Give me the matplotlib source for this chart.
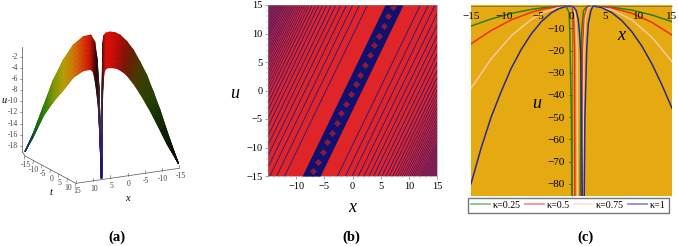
"""Three-panel figure: 3D surface (a), density plot (b), 2D profiles for several kappa (c)."""
import numpy as np
import matplotlib
matplotlib.use("Agg")
import matplotlib.pyplot as plt
from matplotlib.colors import LinearSegmentedColormap
from matplotlib.lines import Line2D
from matplotlib.ticker import MultipleLocator

W, H = 678, 246
SERIF = "Liberation Serif"
plt.rcParams.update({"font.family": SERIF, "mathtext.fontset": "stix"})

# panel (a): surface edges, in 3x reference pixels
left_top_x = [75, 100, 130, 160, 190, 220, 250, 272, 284, 291, 297, 301, 304]
left_top_y = [455, 400, 320, 240, 180, 135, 110, 105, 125, 175, 260, 400, 535]
left_bot_x = [75, 100, 130, 160, 190, 220, 250, 272, 280, 287, 295, 300, 304]
left_bot_y = [455, 410, 348, 305, 270, 232, 212, 208, 216, 250, 320, 420, 535]
left_colors = ["#1a2a90", "#0f6a3a", "#2f8a0a", "#7f9a05", "#b8a205", "#d07a08", "#d93a0a",
               "#c81208", "#6a0a08", "#200806", "#4a2a30", "#3a2a90", "#0a0a9a"]
right_top_x = [305, 306, 308, 312, 318, 330, 345, 360, 380, 400, 420, 440, 460, 480, 510, 535]
right_top_y = [535, 370, 130, 106, 99, 96, 98, 105, 124, 150, 186, 225, 276, 330, 420, 490]
right_bot_x = [305, 306, 308, 312, 318, 325, 335, 350, 365, 380, 400, 420, 440, 460, 500, 535]
right_bot_y = [535, 400, 270, 215, 206, 203, 203, 205, 213, 225, 250, 280, 314, 350, 430, 490]
right_colors = ["#0a0a9a", "#4a3a80", "#3a1a10", "#a01008", "#d80f08", "#d80f08", "#c80e08", "#b00e08",
                "#8a1406", "#6a2206", "#4a3a04", "#3a4004", "#2a4204", "#1a3404", "#0a1a04", "#050505"]
u3d_ticks = [-2, -4, -6, -8, -10, -12, -14, -16, -18]
t3d_ticks = [-15, -10, -5, 0, 5, 10, 15]
x3d_ticks = [15, 10, 5, 0, -5, -10, -15]

# panel (b): stripe offsets from the central band, in x units
stripe_inner = [4.7, 6.1, 7.3, 8.4, 9.4, 10.3, 11.1, 11.9, 12.6, 13.3, 13.9, 14.5]
stripe_outer = [15.0, 15.4, 15.8, 16.2, 16.55, 16.9, 17.25, 17.6, 17.9, 18.2, 18.5, 18.8,
                19.1, 19.4, 19.65, 19.9, 20.15, 20.4, 20.65, 20.9, 21.15, 21.4, 21.65,
                21.9, 22.15, 22.4]
band_slope = 0.49
band_half = 1.6
blob_u = [-14.2, -12.5, -10.8, -9.1, -7.4, -5.7, -4.0, -2.3, -0.6, 1.1, 2.8, 4.5, 6.2, 7.9,
          9.6, 11.3, 13.0, 14.7]

# panel (c): each curve is left wing + inner drop, a break, then inner rise + right wing
green_x = [-15, -12, -9, -6, -4, -2, -0.8, -0.35, -0.25, -0.2, 0.0, 0.05,
           np.nan, 1.3, 1.4, 1.55, 1.8, 2.3, 2.8, 6, 9, 12, 15]
green_u = [-9, -5.8, -3.3, -1.5, -0.65, -0.15, 0, -3, -12, -20, -50, -86,
           np.nan, -86, -30, -10, -2, -0.2, 0, -0.5, -1.8, -4, -7]
red_x = [-15, -12, -9, -6, -4, -2, -0.5, 0.1, 0.3, 0.45, 0.5,
         np.nan, 1.5, 1.65, 1.9, 2.3, 2.9, 6, 9, 12, 15]
red_u = [-17, -11, -6.2, -2.8, -1.2, -0.3, 0, -0.5, -5, -20, -86,
         np.nan, -86, -20, -5, -1, 0, -0.8, -3.2, -7.3, -13]
pink_x = [-15, -12, -9, -6, -4, -2, -0.3, 0.4, 0.65, 0.85, 0.9,
          np.nan, 1.7, 1.85, 2.1, 2.5, 3, 6, 9, 12, 15]
pink_u = [-37, -23.8, -13.4, -6, -2.6, -0.66, 0, -1, -6, -20, -86,
          np.nan, -86, -20, -5, -1, 0, -1.6, -6.2, -14, -25]
blue_x = [-15, -13.5, -12, -10.5, -9, -7.5, -6, -4.5, -3, -2, -1, -0.3, 0.3, 0.7, 1.0, 1.2, 1.35, 1.5, 1.6,
          np.nan, 1.9, 2.0, 2.27, 2.5, 2.9, 3.2, 4.5, 6, 7.5, 9, 10.5, 12, 13.5, 15]
blue_u = [-80, -64, -50, -38.5, -28, -19.5, -12.5, -7, -3, -1.3, -0.3, 0, -0.4, -2, -6, -12, -20, -45, -86,
          np.nan, -86, -50, -20, -8, -2, 0, -0.7, -2.9, -6.5, -11.5, -18, -26, -35.5, -46]
kappa_labels = ["\u03ba=0.25", "\u03ba=0.5", "\u03ba=0.75", "\u03ba=1"]
line_colors = ["#2f7d0a", "#f0300f", "#f8c8a0", "#2a2a90"]
legend_colors = ["#8fbf8f", "#ff8a8a", "#ffe4ec", "#8a8af0"]
c_xticks = [-15, -10, -5, 0, 5, 10, 15]
c_yticks = [-10, -20, -30, -40, -50, -60, -70, -80]


def add_axes_px(left, top, right, bottom):
    return fig.add_axes([left / W, 1 - bottom / H, (right - left) / W, (bottom - top) / H])


def minus(v):
    return str(v).replace("-", "\u2212")


def draw_wing(ax, top_x, top_y, bot_x, bot_y, colors):
    cmap = LinearSegmentedColormap.from_list("wing", colors)
    f = np.linspace(0, 1, 8)[:, None]
    tx, ty, bx, by = map(np.asarray, (top_x, top_y, bot_x, bot_y))
    X = tx + f * (bx - tx)
    Y = ty + f * (by - ty)
    C = np.tile(np.arange(len(colors)), (len(f), 1))
    ax.pcolormesh(X, Y, C, cmap=cmap, shading="gouraud", zorder=2)
    ax.plot(X.T, Y.T, color="#300a00", lw=0.2, alpha=0.15, zorder=3)


fig = plt.figure(figsize=(W / 100, H / 100), dpi=100, facecolor="white")

# (a) ---------------------------------------------------------------------
ax = fig.add_axes([0, 0, 200 / W, 1])
ax.set_xlim(0, 600); ax.set_ylim(738, 0); ax.axis("off")
draw_wing(ax, left_top_x, left_top_y, left_bot_x, left_bot_y, left_colors)
draw_wing(ax, right_top_x, right_top_y, right_bot_x, right_bot_y, right_colors)

GREY = "#555555"
ax.plot([67, 67], [140, 455], color=GREY, lw=0.5)
ax.plot([75, 228, 537], [468, 550, 505], color=GREY, lw=0.5)
ax.plot([67, 75], [455, 468], color=GREY, lw=0.5)
for v in u3d_ticks:
    y = 137 - v * 16.7
    ax.plot([59, 67], [y, y], color=GREY, lw=0.4)
    ax.text(54, y, str(v), ha="right", va="center", fontsize=5.5, color="#444444")
for v in t3d_ticks:
    f = (v + 15) / 30
    px, py = 75 + f * 153, 468 + f * 82
    ax.plot([px, px - 2], [py, py + 9], color=GREY, lw=0.4)
    if v < 15:  # the corner 15 is shared with the x axis
        ax.text(px + 2, py + 27, str(v), ha="center", va="center", fontsize=5.5, color="#444444")
for v in x3d_ticks:
    f = (15 - v) / 30
    px, py = 228 + f * 309, 550 - f * 45
    ax.plot([px, px], [py, py - 9], color=GREY, lw=0.4)
    ax.text(px + 4, py + 24, str(v), ha="center", va="center", fontsize=5.5, color="#444444")
ax.text(12, 302, "u", style="italic", fontsize=7.5, ha="center", va="center")
ax.text(152, 578, "t", style="italic", fontsize=7.5, ha="center", va="center")
ax.text(383, 595, "x", style="italic", fontsize=7.5, ha="center", va="center")
ax.text(350, 713, "(a)", fontweight="bold", fontsize=10.5, ha="center", va="center")

# (b) ---------------------------------------------------------------------
ax = add_axes_px(268, 5, 437, 176)
ax.set_facecolor("#e02528")
ax.set_xlim(-15, 15); ax.set_ylim(-15, 15)
u_ends = np.array([-15.0, 15.0])
for offsets, width in ((stripe_inner, 0.7), (stripe_outer, 0.55)):
    for d in offsets:
        ax.plot(d + band_slope * u_ends, u_ends, color="#3a1a72", lw=width, solid_capstyle="butt")
        ax.plot(-d + band_slope * u_ends, u_ends, color="#3a1a72", lw=width, solid_capstyle="butt")
ax.fill_betweenx(u_ends, band_slope * u_ends - band_half, band_slope * u_ends + band_half,
                 color="#10106e", lw=0, zorder=3)
blobs = np.array(blob_u)
ax.scatter(band_slope * blobs, blobs, marker="D", s=13, color="#8a1a3c", lw=0, zorder=4)
ax.set_xticks([-10, -5, 0, 5, 10, 15])
ax.set_yticks([-15, -10, -5, 0, 5, 10, 15])
ax.xaxis.set_minor_locator(MultipleLocator(1)); ax.yaxis.set_minor_locator(MultipleLocator(1))
ax.tick_params(which="major", length=2.5, width=0.4, color="#666666", labelsize=7.5, pad=1.5)
ax.tick_params(which="minor", length=1.2, width=0.3, color="#888888")
ax.set_xticklabels([minus(v) for v in [-10, -5, 0, 5, 10, 15]])
ax.set_yticklabels([minus(v) for v in [-15, -10, -5, 0, 5, 10, 15]])
for s in ax.spines.values():
    s.set_linewidth(0.4); s.set_color("#888888")
fig.text(352 / W, 1 - 207 / H, "x", style="italic", fontsize=13, ha="center", va="center")
fig.text(235 / W, 1 - 93 / H, "u", style="italic", fontsize=13, ha="center", va="center")
fig.text(351 / W, 1 - 237 / H, "(b)", fontweight="bold", fontsize=10.5, ha="center", va="center")

# (c) ---------------------------------------------------------------------
ax = add_axes_px(471, 5, 672, 196)
ax.set_facecolor("#e5a912")
ax.set_xlim(-15, 15); ax.set_ylim(-85.5, 0.5)
for xs, us, col in zip((green_x, red_x, pink_x, blue_x), (green_u, red_u, pink_u, blue_u), line_colors):
    ax.plot(xs, us, color=col, lw=1.1)
for name in ("right", "bottom"):
    ax.spines[name].set_visible(False)
ax.spines["left"].set_position(("data", 0)); ax.spines["top"].set_position(("data", 0))
ax.spines["left"].set_linewidth(0.4); ax.spines["top"].set_linewidth(0.4)
ax.spines["left"].set_color("#555555"); ax.spines["top"].set_color("#555555")
ax.set_xticks([])
ax.set_yticks(c_yticks)
ax.set_yticklabels([minus(v) for v in c_yticks])
ax.tick_params(axis="y", length=2, width=0.4, labelsize=8, pad=3)
for v in c_xticks:
    ax.text(v, -4.6, minus(v), ha="center", va="center", fontsize=8, clip_on=False, zorder=5)
fig.text(621 / W, 1 - 36 / H, "x", style="italic", fontsize=13, ha="center", va="center")
fig.text(537 / W, 1 - 103 / H, "u", style="italic", fontsize=13, ha="center", va="center")
handles = [Line2D([], [], color=c, lw=1.3) for c in legend_colors]
fig.legend(handles, kappa_labels, ncol=4, loc="center", bbox_to_anchor=(568.5 / W, 1 - 205 / H),
           frameon=True, fancybox=False, edgecolor="#777777", framealpha=1, fontsize=7.2,
           handlelength=1.9, handletextpad=0.3, columnspacing=0.4, borderpad=0.3, borderaxespad=0)
fig.text(585 / W, 1 - 237 / H, "(c)", fontweight="bold", fontsize=10.5, ha="center", va="center")

fig.savefig("out.png", dpi=100)
